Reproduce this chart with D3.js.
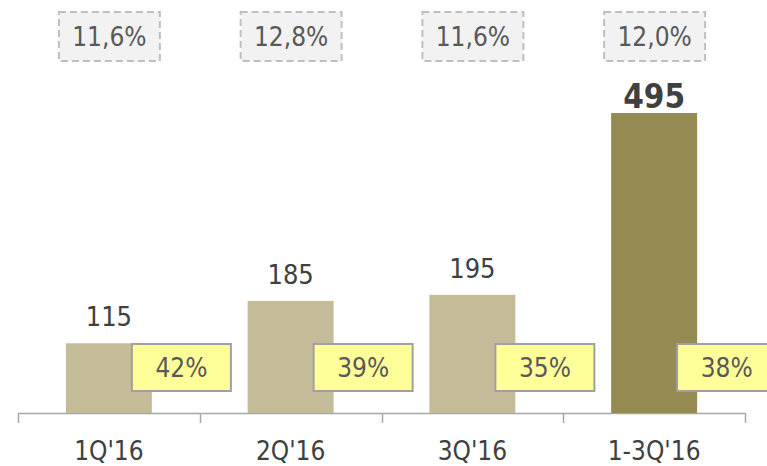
<!DOCTYPE html>
<html><head><meta charset="utf-8">
<script src="https://cdn.jsdelivr.net/npm/d3@7"></script>
<style>body{margin:0;background:#fff}svg{display:block}text{font-family:"DejaVu Sans Condensed","DejaVu Sans",sans-serif}</style>
</head><body>
<svg id="c" width="767" height="466"></svg>
<script>
const categories = ["1Q'16", "2Q'16", "3Q'16", "1-3Q'16"];
const values = [115, 185, 195, 495];
const topLabels = ["11,6%", "12,8%", "11,6%", "12,0%"];
const shareLabels = ["42%", "39%", "35%", "38%"];

const svg = d3.select("#c");
const baseY = 413;
const x = d3.scaleBand().domain(categories).range([18, 745]).paddingInner(0.527).paddingOuter(0.2635);
const y = d3.scaleLinear().domain([0, 495]).range([baseY, 113]);
const step = x.step();
const text = "#404040";

// axis
const axis = svg.append("g");
axis.append("line").attr("x1", 18).attr("x2", 745).attr("y1", baseY + 0.5).attr("y2", baseY + 0.5)
  .attr("stroke", "#a6a6a6").attr("stroke-width", 1.5);
d3.range(categories.length + 1).forEach(i => {
  const xx = Math.round(18 + i * step) + 0.5;
  axis.append("line").attr("x1", xx).attr("x2", xx).attr("y1", baseY).attr("y2", baseY + 10)
    .attr("stroke", "#a6a6a6").attr("stroke-width", 1.5);
});
categories.forEach(c => {
  svg.append("text").attr("x", x(c) + x.bandwidth() / 2).attr("y", 460)
    .attr("text-anchor", "middle").attr("font-size", 26).attr("fill", text).text(c);
});

// bars
svg.selectAll("rect.bar").data(values).join("rect").attr("class", "bar")
  .attr("x", (d, i) => x(categories[i])).attr("width", x.bandwidth())
  .attr("y", d => y(d)).attr("height", d => baseY - y(d))
  .attr("fill", (d, i) => i === 3 ? "#958a52" : "#c4bc98");

// value labels
values.forEach((v, i) => {
  const last = i === 3;
  svg.append("text").attr("x", x(categories[i]) + x.bandwidth() / 2)
    .attr("y", last ? y(v) - 5 : y(v) - 17)
    .attr("text-anchor", "middle").attr("font-size", last ? 33 : 27)
    .attr("font-weight", last ? "bold" : "normal").attr("fill", text).text(v);
});

// top boxes
topLabels.forEach((t, i) => {
  const cx = x(categories[i]) + x.bandwidth() / 2;
  svg.append("rect").attr("x", cx - 50).attr("y", 12).attr("width", 101).attr("height", 49)
    .attr("fill", "#f2f2f2").attr("stroke", "#bfbfbf").attr("stroke-width", 2).attr("stroke-dasharray", "7,4");
  svg.append("text").attr("x", cx + 0.5).attr("y", 46).attr("text-anchor", "middle")
    .attr("font-size", 26).attr("fill", "#595959").text(t);
});

// yellow boxes
shareLabels.forEach((t, i) => {
  const cx = x(categories[i]) + x.bandwidth() / 2;
  const bx = cx + 23;
  svg.append("rect").attr("x", bx).attr("y", 344).attr("width", 99).attr("height", 47)
    .attr("fill", "#ffff99").attr("stroke", "#a0a0a0").attr("stroke-width", 2);
  svg.append("text").attr("x", bx + 49.5).attr("y", 377).attr("text-anchor", "middle")
    .attr("font-size", 26).attr("fill", "#595959").text(t);
});
</script>
</body></html>
